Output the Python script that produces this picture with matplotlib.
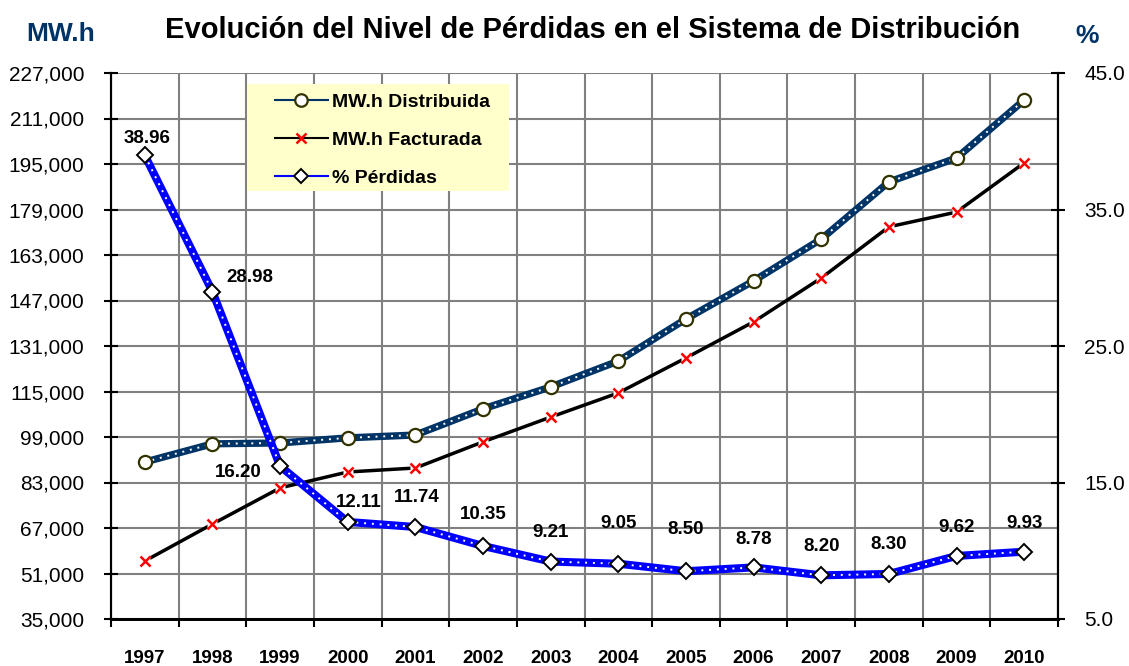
import numpy as np
import matplotlib
matplotlib.use("Agg")
import matplotlib.pyplot as plt
from matplotlib.lines import Line2D
from matplotlib.patches import Rectangle
from matplotlib.ticker import FuncFormatter

plt.rcParams["font.family"] = ["Liberation Sans", "DejaVu Sans"]

# ==============================
# DATA
# ==============================

years = ["1997", "1998", "1999", "2000", "2001", "2002", "2003",
         "2004", "2005", "2006", "2007", "2008", "2009", "2010"]

mwh_distribuida = [90200, 96600, 96900, 98700, 99700, 108900, 116600,
                   125700, 140500, 153900, 168600, 188700, 197100, 217500]

mwh_facturada = [55400, 68400, 81100, 86700, 88100, 97300, 106000,
                 114500, 126800, 139500, 154900, 172900, 178100, 195400]

perdidas = [38.96, 28.98, 16.20, 12.11, 11.74, 10.35, 9.21,
            9.05, 8.50, 8.78, 8.20, 8.30, 9.62, 9.93]

# label offsets (pixels) for the % values
label_dx = [2, 37, -42, 11, 1, 0, 0, 0, 0, 0, 0, 0, 0, 0]
label_dy = [17, 14, -6, 19, 29, 31, 29, 40, 42, 28, 29, 29, 28, 28]

NAVY = "#003366"
BLUE = "#0000FF"
GRID = "#808080"

# ==============================
# FIGURE
# ==============================

W, H = 1129, 666
fig = plt.figure(figsize=(W / 100, H / 100), dpi=100)
ax = fig.add_axes([111 / W, 1 - 619 / H, 947 / W, 546 / H])
ax2 = ax.twinx()

x = np.arange(len(years))

# left axis
ax.set_xlim(-0.5, len(years) - 0.5)
ax.set_ylim(35000, 227000)
ax.set_yticks(np.arange(35000, 227001, 16000))
ax.yaxis.set_major_formatter(FuncFormatter(lambda v, p: f"{int(v):,}"))
ax.set_xticks(np.arange(-0.5, len(years), 1))
ax.set_xticklabels([])
ax.set_xticks(x, minor=True)
ax.set_xticklabels(years, minor=True, fontsize=13.5, fontweight="bold")
ax.tick_params(axis="x", which="major", direction="out", length=6, width=1.5)
ax.tick_params(axis="x", which="minor", length=0, pad=22)
ax.tick_params(axis="y", direction="inout", length=10, width=1.5,
               labelsize=15, pad=14)
ax.grid(True, which="major", color=GRID, linewidth=1.5)
ax.set_axisbelow(True)

# right axis
ax2.set_ylim(5, 45)
ax2.set_yticks([5, 15, 25, 35, 45])
ax2.yaxis.set_major_formatter(FuncFormatter(lambda v, p: f"{v:.1f}"))
ax2.tick_params(axis="y", direction="inout", length=10, width=1.5,
                labelsize=15, pad=14)

for a in (ax, ax2):
    a.spines["top"].set_visible(False)
    a.spines["left"].set_linewidth(1.5)
    a.spines["right"].set_linewidth(1.5)
    a.spines["bottom"].set_linewidth(2)

# ==============================
# SERIES
# ==============================

ax.plot(x, mwh_facturada, color="black", linewidth=2.5, zorder=3)
ax.plot(x, mwh_facturada, linestyle="none", marker="s", markersize=7,
        markerfacecolor="white", markeredgecolor="none", zorder=4)
ax.plot(x, mwh_facturada, linestyle="none", marker="x", markersize=7,
        markeredgewidth=1.8, color="red", zorder=4)

ax.plot(x, mwh_distribuida, color=NAVY, linewidth=5.2, zorder=3,
        solid_capstyle="butt")
ax.plot(x, mwh_distribuida, color="white", linewidth=1.4,
        linestyle=(0, (1, 3)), zorder=3)
ax.plot(x, mwh_distribuida, linestyle="none", marker="o", markersize=9.5,
        markerfacecolor="white", markeredgecolor="#333300",
        markeredgewidth=1.6, zorder=4)

ax2.plot(x, perdidas, color=BLUE, linewidth=5.8, zorder=3)
ax2.plot(x, perdidas, color="white", linewidth=1.4,
         linestyle=(0, (1, 3)), zorder=3)
ax2.plot(x, perdidas, linestyle="none", marker="D", markersize=8.5,
         markerfacecolor="white", markeredgecolor="black",
         markeredgewidth=1.4, zorder=4)

for xi, v, dx, dy in zip(x, perdidas, label_dx, label_dy):
    ax2.annotate(f"{v:.2f}", (xi, v), xytext=(dx, dy),
                 textcoords="offset pixels", ha="center", va="center",
                 fontsize=13.5, fontweight="bold", zorder=6)

# ==============================
# LEGEND
# ==============================

box = Rectangle(((247 - 111) / 947, (619 - 191) / 546), 262 / 947, 107 / 546,
                transform=ax2.transAxes, facecolor="#FFFFCC",
                edgecolor="none", zorder=5)
ax2.add_patch(box)

handles = [
    Line2D([], [], color=NAVY, linewidth=1.5, marker="o", markersize=9,
           markerfacecolor="white", markeredgecolor="#333300",
           markeredgewidth=1.6),
    Line2D([], [], color="black", linewidth=1.5, marker="x", markersize=7,
           markeredgecolor="red", markeredgewidth=1.8),
    Line2D([], [], color=BLUE, linewidth=1.5, marker="D", markersize=7,
           markerfacecolor="white", markeredgecolor="black",
           markeredgewidth=1.4),
]
leg = ax2.legend(handles, ["MW.h Distribuida", "MW.h Facturada", "% Pérdidas"],
                 loc="upper left",
                 bbox_to_anchor=((275 - 111) / 947, (619 - 93) / 546),
                 frameon=False, borderpad=0, borderaxespad=0,
                 handlelength=2.7, handletextpad=0.25, labelspacing=1.05,
                 prop={"size": 14, "weight": "bold"})
leg.set_zorder(6)

# ==============================
# TEXTS
# ==============================

fig.text(593 / W, 1 - 30 / H,
         "Evolución del Nivel de Pérdidas en el Sistema de Distribución",
         ha="center", va="center", fontsize=21, fontweight="bold")
fig.text(61 / W, 1 - 34 / H, "MW.h", ha="center", va="center",
         fontsize=19, fontweight="bold", color=NAVY)
fig.text(1087 / W, 1 - 36 / H, "%", ha="center", va="center",
         fontsize=19, fontweight="bold", color=NAVY)

fig.savefig("out.png", dpi=100, facecolor="white")
